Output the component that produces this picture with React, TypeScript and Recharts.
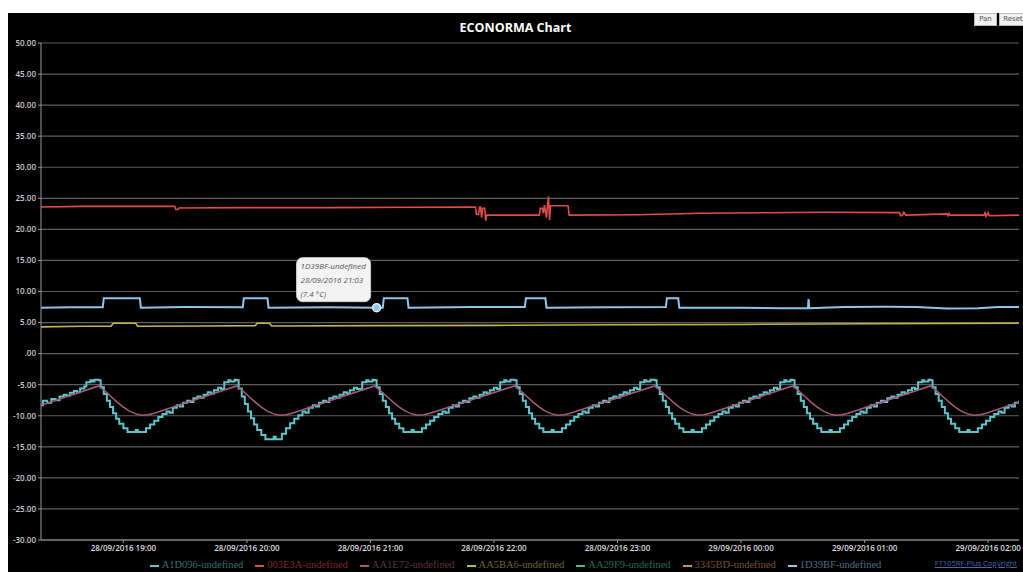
import { LineChart, Line, XAxis, YAxis, CartesianGrid, Legend, ReferenceDot } from "recharts";

type Pt = [number, number];

// x values are minutes after 28/09/2016 18:00
const xTicks = [60, 120, 180, 240, 300, 360, 420, 480];
const yTicks = [-30, -25, -20, -15, -10, -5, 0, 5, 10, 15, 20, 25, 30, 35, 40, 45, 50];

const names = [
  "A1D096-undefined",
  "003E3A-undefined",
  "AA1E72-undefined",
  "AA5BA6-undefined",
  "AA29F9-undefined",
  "3345BD-undefined",
  "1D39BF-undefined",
];

// staircase probe
const a1d096: Pt[] = [
  [20, -8.3], [21, -7.6], [23, -7.9], [25, -7.3], [27, -7.5], [29, -6.9], [31, -6.6], [32.5, -6.8], [34, -6.3], [36, -6.0], [37.5, -6.2], [39, -5.6], [41, -5.3], [42, -4.6], [44, -4.3], [45, -4.5], [46, -4.2],
  [48, -4.3], [49, -5.4], [50.5, -6.5], [52, -7.6], [53.5, -8.6], [55, -9.6], [56.5, -10.5], [58, -11.3], [60, -12.0], [62, -12.6], [66, -12.3], [67, -12.6], [71, -12.0], [73, -11.4], [75, -10.8], [77, -10.2], [79, -9.7], [81, -9.3], [82.5, -9.5], [84, -8.7], [86, -8.3], [87.5, -8.5], [89, -7.9], [91, -7.6], [92.5, -7.8], [94, -7.2], [96, -6.9], [97.5, -7.1], [99, -6.6], [101, -6.2], [102.5, -6.4], [104, -5.9], [106, -5.5], [107.5, -5.7], [109, -4.6], [111, -4.3], [112, -4.5], [114, -4.2],
  [115, -4.3], [116, -5.6], [117.5, -6.9], [119, -8.1], [120.5, -9.3], [122, -10.4], [123.5, -11.4], [125, -12.3], [127, -13.1], [129, -13.8], [133, -13.4], [134, -13.8], [137, -12.9], [139, -12.0], [141, -11.2], [143, -10.5], [145, -9.9], [147, -9.3], [148.5, -9.5], [150, -8.7], [152, -8.3], [153.5, -8.5], [155, -7.9], [157, -7.6], [158.5, -7.8], [160, -7.2], [162, -6.9], [163.5, -7.1], [165, -6.6], [167, -6.2], [168.5, -6.4], [170, -5.9], [172, -5.5], [173.5, -5.7], [176, -4.6], [178, -4.3], [179, -4.5], [181, -4.2],
  [182, -4.3], [183, -5.4], [184.5, -6.5], [186, -7.6], [187.5, -8.6], [189, -9.6], [190.5, -10.5], [192, -11.3], [194, -12.0], [196, -12.6], [200, -12.3], [201, -12.6], [205, -12.0], [207, -11.4], [209, -10.8], [211, -10.2], [213, -9.7], [215, -9.3], [216.5, -9.5], [218, -8.7], [220, -8.3], [221.5, -8.5], [223, -7.9], [225, -7.6], [226.5, -7.8], [228, -7.2], [230, -6.9], [231.5, -7.1], [233, -6.6], [235, -6.2], [236.5, -6.4], [238, -5.9], [240, -5.5], [241.5, -5.7], [243, -4.6], [245, -4.3], [246, -4.5], [248, -4.2],
  [250, -4.3], [251, -5.4], [252.5, -6.5], [254, -7.6], [255.5, -8.6], [257, -9.6], [258.5, -10.5], [260, -11.3], [262, -12.0], [264, -12.6], [268, -12.3], [269, -12.6], [273, -12.0], [275, -11.4], [277, -10.8], [279, -10.2], [281, -9.7], [283, -9.3], [284.5, -9.5], [286, -8.7], [288, -8.3], [289.5, -8.5], [291, -7.9], [293, -7.6], [294.5, -7.8], [296, -7.2], [298, -6.9], [299.5, -7.1], [301, -6.6], [303, -6.2], [304.5, -6.4], [306, -5.9], [308, -5.5], [309.5, -5.7], [311, -4.6], [313, -4.3], [314, -4.5], [316, -4.2],
  [318, -4.3], [319, -5.4], [320.5, -6.5], [322, -7.6], [323.5, -8.6], [325, -9.6], [326.5, -10.5], [328, -11.3], [330, -12.0], [332, -12.6], [336, -12.3], [337, -12.6], [341, -12.0], [343, -11.4], [345, -10.8], [347, -10.2], [349, -9.7], [351, -9.3], [352.5, -9.5], [354, -8.7], [356, -8.3], [357.5, -8.5], [359, -7.9], [361, -7.6], [362.5, -7.8], [364, -7.2], [366, -6.9], [367.5, -7.1], [369, -6.6], [371, -6.2], [372.5, -6.4], [374, -5.9], [376, -5.5], [377.5, -5.7], [379, -4.6], [381, -4.3], [382, -4.5], [384, -4.2],
  [385, -4.3], [386, -5.4], [387.5, -6.5], [389, -7.6], [390.5, -8.6], [392, -9.6], [393.5, -10.5], [395, -11.3], [397, -12.0], [399, -12.6], [403, -12.3], [404, -12.6], [408, -12.0], [410, -11.4], [412, -10.8], [414, -10.2], [416, -9.7], [418, -9.3], [419.5, -9.5], [421, -8.7], [423, -8.3], [424.5, -8.5], [426, -7.9], [428, -7.6], [429.5, -7.8], [431, -7.2], [433, -6.9], [434.5, -7.1], [436, -6.6], [438, -6.2], [439.5, -6.4], [441, -5.9], [443, -5.5], [444.5, -5.7], [446, -4.6], [448, -4.3], [449, -4.5], [451, -4.2],
  [452, -4.3], [453, -5.4], [454.5, -6.5], [456, -7.6], [457.5, -8.6], [459, -9.6], [460.5, -10.5], [462, -11.3], [464, -12.0], [466, -12.6], [470, -12.3], [471, -12.6], [475, -12.0], [477, -11.4], [479, -10.8], [481, -10.2], [483, -9.7], [485, -9.3], [486.5, -9.5], [488, -8.7], [490, -8.3], [491.5, -8.5], [493, -7.9], [495, -7.6],
];

const e003e3a: Pt[] = [
  [20, 23.6], [40, 23.7], [60, 23.7], [85, 23.7], [85.5, 23.2], [86.5, 23.2], [87, 23.45], [120, 23.5], [160, 23.5], [200, 23.55], [231, 23.6],
  [231.5, 22.4], [232.5, 22.4], [233, 23.6], [233.5, 23.6], [234, 21.9], [234.5, 23.4], [235.5, 23.4], [236, 21.4], [236.5, 22.3], [262, 22.3],
  [262.5, 23.4], [263.5, 23.4], [264, 22.6], [264.5, 23.9], [265.5, 21.9], [266, 23.9], [266.5, 25.3], [267, 21.5], [267.5, 23.8], [276, 23.8], [276.5, 22.3],
  [310, 22.35], [340, 22.6], [400, 22.75], [437, 22.7], [437.5, 22.2], [438.5, 22.3], [439, 22.75], [440, 22.3], [460, 22.5], [460.5, 22.2], [461, 22.6], [461.5, 22.3],
  [478, 22.3], [478.5, 22.7], [479, 22.1], [480, 22.7], [480.5, 22.2], [495, 22.3],
];

// smooth mauve curve
const aa1e72: Pt[] = [
  [20, -8.3],
  [48, -5.2], [51, -6.0], [54, -6.9], [57, -7.8], [60, -8.6], [63, -9.25], [66, -9.7], [69, -9.9], [72, -9.85], [75, -9.6],
  [115, -5.2], [118, -6.0], [121, -6.9], [124, -7.8], [127, -8.6], [130, -9.25], [133, -9.7], [136, -9.9], [139, -9.85], [142, -9.6],
  [182, -5.2], [185, -6.0], [188, -6.9], [191, -7.8], [194, -8.6], [197, -9.25], [200, -9.7], [203, -9.9], [206, -9.85], [209, -9.6],
  [250, -5.2], [253, -6.0], [256, -6.9], [259, -7.8], [262, -8.6], [265, -9.25], [268, -9.7], [271, -9.9], [274, -9.85], [277, -9.6],
  [318, -5.2], [321, -6.0], [324, -6.9], [327, -7.8], [330, -8.6], [333, -9.25], [336, -9.7], [339, -9.9], [342, -9.85], [345, -9.6],
  [385, -5.2], [388, -6.0], [391, -6.9], [394, -7.8], [397, -8.6], [400, -9.25], [403, -9.7], [406, -9.9], [409, -9.85], [412, -9.6],
  [452, -5.2], [455, -6.0], [458, -6.9], [461, -7.8], [464, -8.6], [467, -9.25], [470, -9.7], [473, -9.9], [476, -9.85], [479, -9.6],
  [495, -7.8],
];

const aa5ba6: Pt[] = [
  [20, 4.3], [40, 4.4], [54, 4.4], [55, 4.9], [66, 4.9], [67, 4.4], [100, 4.45], [124, 4.5], [125, 4.9], [131, 4.9], [132, 4.45],
  [180, 4.5], [240, 4.55], [300, 4.65], [360, 4.7], [420, 4.8], [495, 4.9],
];

const aa29f9: Pt[] = [];
const b3345bd: Pt[] = [];

const d1d39bf: Pt[] = [
  [20, 7.4], [35, 7.45], [50, 7.45], [50.5, 8.9], [68, 8.9], [68.5, 7.4], [90, 7.5], [118, 7.45], [118.5, 8.9], [130, 8.9], [130.5, 7.4],
  [160, 7.45], [183, 7.4], [186, 7.4], [186.5, 8.9], [198, 8.9], [198.5, 7.4], [230, 7.5], [255, 7.5], [255.5, 8.9], [265, 8.9], [265.5, 7.4],
  [295, 7.45], [323.5, 7.5], [324, 8.9], [329.5, 8.9], [330, 7.4], [360, 7.4], [380, 7.3], [392.5, 7.3], [392.8, 8.8], [393.1, 7.3],
  [410, 7.5], [430, 7.55], [445, 7.5], [460, 7.25], [475, 7.3], [485, 7.5], [495, 7.5],
];

// hovered point shown in the screenshot
const tipTime = 183;
const tipValue = 7.4;

const toRows = (pts: Pt[]) => pts.map(([t, v]) => ({ t, v }));

const series = [
  { name: names[0], data: a1d096, color: "#5cc6cc", width: 2, type: "stepAfter" },
  { name: names[1], data: e003e3a, color: "#de4d47", width: 1.6, type: "linear" },
  { name: names[2], data: aa1e72, color: "#a95a7c", width: 1.5, type: "linear" },
  { name: names[3], data: aa5ba6, color: "#c4b44c", width: 1.6, type: "linear" },
  { name: names[4], data: aa29f9, color: "#3fbf9c", width: 1.6, type: "linear" },
  { name: names[5], data: b3345bd, color: "#d3924c", width: 1.6, type: "linear" },
  { name: names[6], data: d1d39bf, color: "#8ec6ec", width: 2, type: "linear" },
];

const pad = (n: number) => String(n).padStart(2, "0");

function fmtTime(t: number) {
  const h = 18 + Math.floor(t / 60);
  const day = h >= 24 ? 29 : 28;
  return `${day}/09/2016 ${pad(h % 24)}:${pad(Math.round(t % 60))}`;
}

function fmtValue(v: number) {
  if (v === 0) return ".00";
  return v.toFixed(2);
}

function renderLegend(props: any) {
  // keep the series order, recharts sorts by name otherwise
  const payload = [...(props.payload || [])].sort(
    (a: any, b: any) => names.indexOf(a.value) - names.indexOf(b.value)
  );
  return (
    <div
      style={{
        display: "flex",
        justifyContent: "center",
        gap: 12,
        height: 14,
        lineHeight: "14px",
        fontFamily: '"Liberation Serif", "Times New Roman", serif',
        fontSize: 10.5,
        paddingLeft: 4,
      }}
    >
      {payload.map((p: any) => (
        <span key={p.value} style={{ whiteSpace: "nowrap" }}>
          <span
            style={{
              display: "inline-block",
              width: 9,
              height: 2,
              marginRight: 3,
              verticalAlign: "middle",
              background: p.color,
            }}
          />
          <span style={{ color: p.color, opacity: 0.55 }}>{p.value}</span>
        </span>
      ))}
    </div>
  );
}

function TipShape(props: any) {
  const { cx, cy } = props;
  if (cx == null || cy == null) return null;
  const lines = ["1D39BF-undefined", fmtTime(tipTime), `(${tipValue} °C)`];
  return (
    <g>
      <rect x={cx - 80} y={cy - 50} width={74} height={44} rx={6} fill="#f3f3f3" stroke="#cfcfcf" />
      {lines.map((s, i) => (
        <text
          key={i}
          x={cx - 76}
          y={cy - 39 + i * 14}
          fontSize={8}
          fontStyle="italic"
          fill="#555"
          fontFamily='"Open Sans", sans-serif'
        >
          {s}
        </text>
      ))}
      <circle cx={cx} cy={cy} r={4} fill="#8ec6ec" stroke="#dff1fb" strokeWidth={1.5} />
    </g>
  );
}

const btn: React.CSSProperties = {
  position: "absolute",
  top: 0,
  height: 11,
  lineHeight: "11px",
  fontSize: 7,
  color: "#555",
  background: "#f0f0f0",
  border: "1px solid #bbb",
  fontFamily: '"DejaVu Sans", sans-serif',
  textAlign: "center",
};

export default function App() {
  return (
    <div
      style={{
        position: "absolute",
        left: 8,
        top: 13,
        width: 1015,
        height: 559,
        background: "#000",
        overflow: "hidden",
        fontFamily: '"Open Sans", sans-serif',
      }}
    >
      <div
        style={{
          position: "absolute",
          top: 6,
          left: 0,
          width: 1015,
          textAlign: "center",
          color: "#fff",
          fontWeight: 700,
          fontSize: 12.5,
          fontFamily: '"Open Sans", sans-serif',
        }}
      >
        ECONORMA Chart
      </div>
      <div style={{ ...btn, left: 966, width: 21 }}>Pan</div>
      <div style={{ ...btn, left: 991, width: 26 }}>Reset</div>

      <LineChart width={1015} height={559} margin={{ top: 30, right: 4, bottom: 0, left: 0 }}>
        <CartesianGrid vertical={false} stroke="#5e5e5e" strokeWidth={1.2} />
        <XAxis
          dataKey="t"
          type="number"
          domain={[20, 495]}
          ticks={xTicks}
          allowDataOverflow
          tickFormatter={fmtTime}
          tick={{ fill: "#ddd", fontSize: 8, fontWeight: 600 }}
          axisLine={{ stroke: "#999" }}
          tickLine={{ stroke: "#999" }}
          tickSize={3}
          height={18}
        />
        <YAxis
          type="number"
          domain={[-30, 50]}
          ticks={yTicks}
          tickFormatter={fmtValue}
          tick={{ fill: "#ccc", fontSize: 8, fontWeight: 600 }}
          axisLine={{ stroke: "#999" }}
          tickLine={{ stroke: "#999" }}
          tickSize={3}
          width={33}
        />
        {series.map((s) => (
          <Line
            key={s.name}
            name={s.name}
            data={toRows(s.data)}
            dataKey="v"
            type={s.type as any}
            stroke={s.color}
            strokeWidth={s.width}
            dot={false}
            activeDot={false}
            isAnimationActive={false}
          />
        ))}
        <ReferenceDot x={tipTime} y={tipValue} r={4} shape={(p: any) => <TipShape {...p} />} />
        <Legend verticalAlign="bottom" height={14} content={renderLegend} />
      </LineChart>

      <div
        style={{
          position: "absolute",
          right: 6,
          top: 545,
          fontSize: 7.5,
          color: "#4a68b0",
          textDecoration: "underline",
          fontFamily: '"Open Sans", sans-serif',
        }}
      >
        FT105RF-Plus Copyright
      </div>
    </div>
  );
}
